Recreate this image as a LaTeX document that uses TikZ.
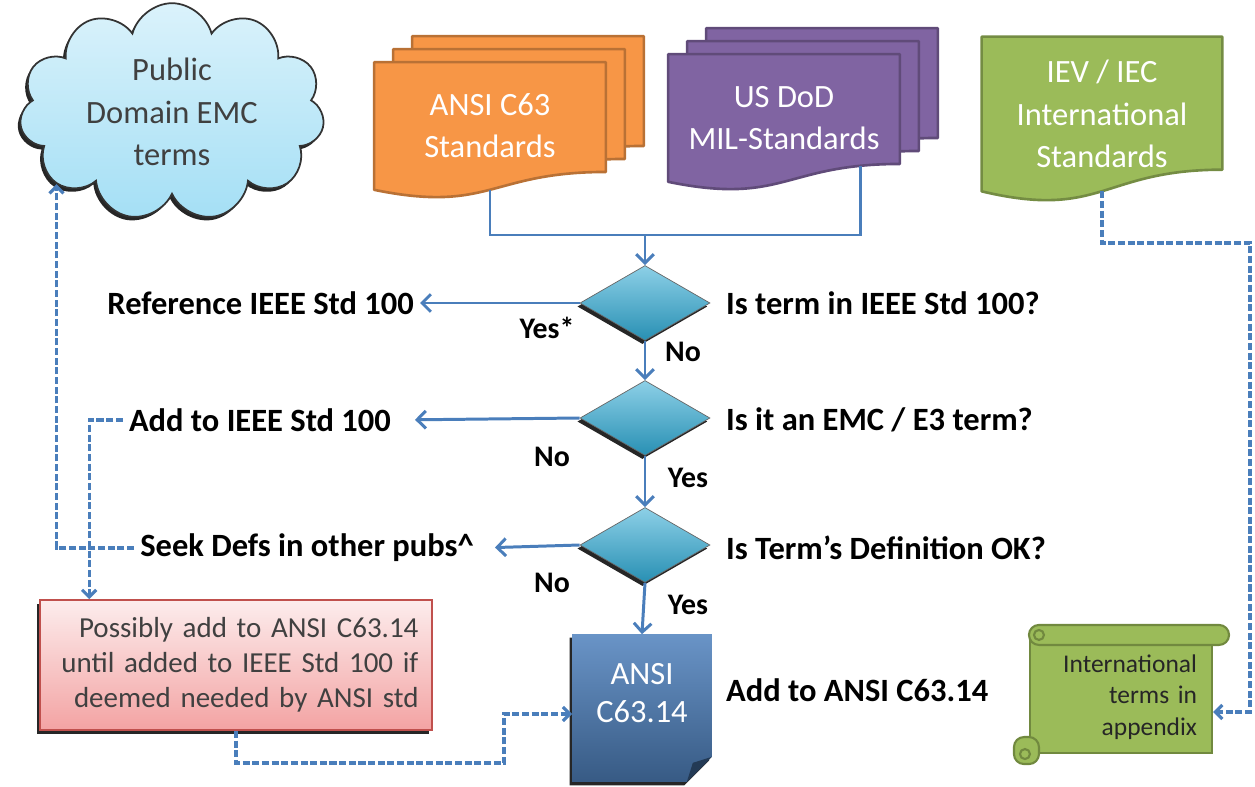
\documentclass[tikz,border=0pt]{standalone}
\usepackage{fontspec}
\setmainfont{Carlito}
\usetikzlibrary{arrows.meta,shapes.geometric,shapes.symbols,shadows,calc,backgrounds,positioning}
\definecolor{LINE}{HTML}{4A7EBB}
\definecolor{ORANGE}{HTML}{F79646}
\definecolor{PURPLE}{HTML}{8064A2}
\definecolor{GREEN}{HTML}{9BBB59}
\definecolor{GREENDK}{HTML}{71893F}
\definecolor{AQUA}{HTML}{2FA9D3}
\definecolor{SKY}{HTML}{A4DFF5}
\definecolor{PINK}{HTML}{F3A3A3}
\definecolor{REDDK}{HTML}{C0504D}
\definecolor{BLUE}{HTML}{4F81BD}

\begin{document}
\begin{tikzpicture}[x=0.02cm,y=-0.02cm]
\useasboundingbox (0,0) rectangle (1255,787);
\tikzstyle{flow}=[draw=LINE, line width=1.7pt, -{Straight Barb[length=5pt,width=10pt]}]
\tikzstyle{feed}=[draw=LINE, line width=1.8pt, dash pattern=on 4pt off 1.5pt, -{Straight Barb[length=4pt,width=8pt]}]
\tikzstyle{shadowed}=[drop shadow={shadow xshift=-1.5pt, shadow yshift=-2pt, opacity=.85, fill=black}]
\tikzstyle{docbox}=[inner sep=0pt, align=center, text=white, font=\fontsize{18.5}{24}\selectfont, minimum width=4.62cm, minimum height=2.54cm]
\tikzstyle{decision}=[diamond, shadowed, draw=black!60, top color=AQUA!55!white, bottom color=AQUA!85!black, minimum width=2.6cm, minimum height=1.5cm, inner sep=0pt]
\tikzstyle{action}=[font=\fontsize{18.5}{22}\selectfont\bfseries]
\tikzstyle{question}=[action, anchor=west]
\tikzstyle{answer}=[font=\fontsize{17}{20}\selectfont\bfseries]
\tikzstyle{scrollroll}=[draw=GREENDK, fill=GREEN, line width=1.2pt]

% sheet with a wavy lower edge, drawn round a node
\newcommand{\docsheet}[2]{
\draw[fill=#2, draw=#2!75!black, line width=1.5pt, line join=round]
  (#1.north west) -- (#1.north east) -- ($(#1.north east)!.86!(#1.south east)$)
  .. controls ($(#1.north)!.86!(#1.south)$) and ($(#1.north)!1.185!(#1.south)$)
  .. (#1.south west) -- cycle;
}

\newcommand{\docstack}[5]{
\node[docbox] (#1) at (#2,#3) {#5};
\foreach \k in {1,2}
  \node[docbox] (#1\k) at ([shift={(19*\k,-13*\k)}]#1) {};
\begin{scope}[on background layer]
\foreach \k in {2,1}
  \docsheet{#1\k}{#4};
\docsheet{#1}{#4}
\end{scope}
}

%% sources
\node[cloud, cloud puffs=11, aspect=1.55, draw=black!80, line width=1pt, shadowed,
  top color=SKY!40!white, bottom color=SKY, minimum width=6.1cm, minimum height=3.9cm,
  align=center, text=black!75, font=\fontsize{18.5}{24}\selectfont] (cloud) at (172,112)
  {Public\\Domain EMC\\terms};
\docstack{ansi}{490}{126}{ORANGE}{ANSI C63\\Standards}
\docstack{dod}{784}{118}{PURPLE}{US DoD\\MIL-Standards}
\node[docbox, minimum width=4.8cm, minimum height=3.08cm] (iev) at (1102,114)
  {IEV / IEC\\International\\Standards};
\begin{scope}[on background layer]
\docsheet{iev}{GREEN}
\end{scope}

%% decisions
\node[decision] (q1) at (645,303) {};
\node[decision] (q2) at (645,418) {};
\node[decision] (q3) at (645,545) {};

\node[question] (isterm) at (720,303) {Is term in IEEE Std 100?};
\node[question] (isemc) at (720,420) {Is it an EMC / E3 term?};
\node[question] (isdef) at (720,548) {Is Term’s Definition OK?};

\node[action, anchor=east] (reference) at (420,303) {Reference IEEE Std 100};
\node[action, anchor=east] (addieee) at (397,420) {Add to IEEE Std 100};
\node[action, anchor=east] (seek) at (480,548) {Seek Defs in other pubs\textasciicircum};

\node[answer] (yes1) at (547,328) {Yes*};
\node[answer] (no1) at (683,352) {No};
\node[answer] (no2) at (552,457) {No};
\node[answer] (yes2) at (688,478) {Yes};
\node[answer] (no3) at (552,583) {No};
\node[answer] (yes3) at (688,605) {Yes};

%% results
\node[draw=REDDK, line width=1pt, top color=PINK!20!white, bottom color=PINK, shadowed,
  minimum width=7.84cm, minimum height=2.6cm, text width=7.3cm, align=right,
  text=black!75, font=\fontsize{16.5}{20}\selectfont] (pink) at (236,665)
  {Possibly add to ANSI C63.14\\until added to IEEE Std 100 if\\deemed needed by ANSI std};

\node[minimum width=2.78cm, minimum height=2.94cm, align=center, text=white,
  font=\fontsize{18.5}{22}\selectfont] (ansi14) at (642,708) {ANSI\\C63.14\\[-.17cm]};
\begin{scope}[on background layer]
\path[top color=BLUE!85!white, bottom color=BLUE!70!black, shadowed]
  (ansi14.north west) -- (ansi14.north east) -- ([yshift=.5cm]ansi14.south east)
  -- ([xshift=-.5cm]ansi14.south east) -- (ansi14.south west) -- cycle;
\fill[BLUE!45!black] ([yshift=.5cm]ansi14.south east) -- ([xshift=-.5cm]ansi14.south east)
  -- ([shift={(-.38cm,.38cm)}]ansi14.south east) -- cycle;
\end{scope}
\node[question] (addansi) at (720,690) {Add to ANSI C63.14};

\node[draw=GREENDK, fill=GREEN, line width=1.2pt, minimum width=3.64cm, minimum height=2.24cm,
  text width=3.04cm, align=right, text=black!85, font=\fontsize{14.5}{18}\selectfont]
  (scroll) at (1121,697) {International\\terms in\\appendix};
\draw[scrollroll, rounded corners=.2cm] ([yshift=.3cm]scroll.north west) rectangle ([shift={(.32cm,-.1cm)}]scroll.north east);
\draw[scrollroll] ([shift={(.2cm,.1cm)}]scroll.north west) circle (.1cm);
\draw[scrollroll, rounded corners=.2cm] ([shift={(-.3cm,-.2cm)}]scroll.south west) rectangle ([shift={(.2cm,.34cm)}]scroll.south west);
\draw[scrollroll] ([shift={(-.08cm,.0cm)}]scroll.south west) circle (.1cm);

%% connectors
\coordinate (merge) at (645,235);
\draw[draw=LINE, line width=1.7pt] (ansi.south) |- (merge) -| ([shift={(76,-16)}]dod.south);
\draw[flow] (merge) -- (q1.north);
\draw[flow] (q1.south) -- (q2.north);
\draw[flow] (q2.south) -- (q3.north);
\draw[flow] (q3.south) -- (ansi14.north);
\draw[flow] (q1.west) -- (reference.east);
\draw[flow, shorten >=.36cm] (q2.west) -- (addieee.east);
\draw[flow, shorten >=.3cm] (q3.west) -- (seek.east);

\coordinate (lowbend) at (504,763);
\coordinate (highbend) at (1250,243);
\draw[feed] (seek.west) -| (cloud.212);
\draw[feed] (addieee.west) -| ([xshift=1cm]pink.north west);
\draw[feed] (pink.south) |- (lowbend) |- ([yshift=-.12cm]ansi14.west);
\draw[feed] (iev.south) |- (highbend) |- ([yshift=-.3cm]scroll.east);
\end{tikzpicture}
\end{document}
